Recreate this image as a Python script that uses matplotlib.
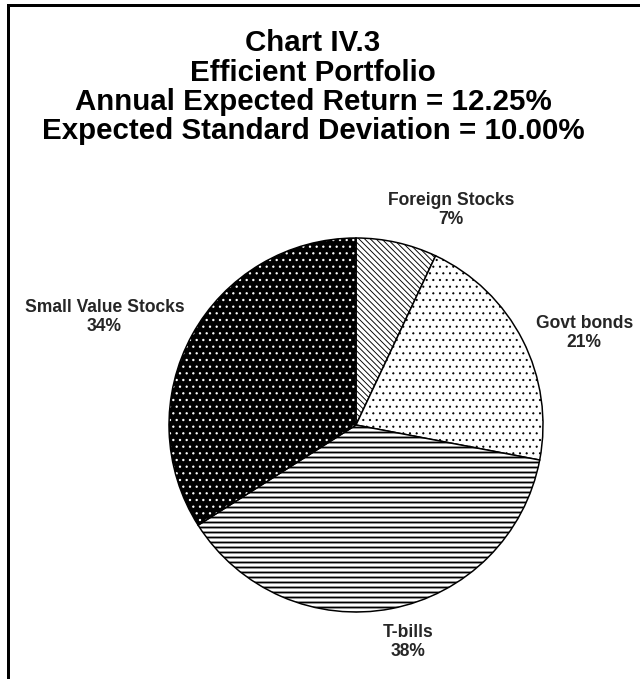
import matplotlib.pyplot as plt
from matplotlib.patches import Wedge
from matplotlib.lines import Line2D

plt.rcParams['font.family'] = ['Liberation Sans', 'DejaVu Sans']
plt.rcParams['hatch.linewidth'] = 0.8

# portfolio weights, clockwise from 12 o'clock
title_lines = ['Chart IV.3',
               'Efficient Portfolio',
               'Annual Expected Return = 12.25%',
               'Expected Standard Deviation = 10.00%']
assets = ['Foreign Stocks', 'Govt bonds', 'T-bills', 'Small Value Stocks']
weights = [7, 21, 38, 34]

# fill styles for the black and white print version
faces = ['white', 'white', 'white', 'black']
hatches = ['\\' * 7, '...', '----', '...']
hatch_lw = [0.55, 0.5, 1.1, 0.6]
label_pos = [(0.51, 1.15), (1.22, 0.49), (0.28, -1.16), (-1.345, 0.58)]

DPI = 120
W, H = 640, 679
cx, cy, r = 356, 425, 187   # pie centre and radius in pixels

fig = plt.figure(figsize=(W / DPI, H / DPI), dpi=DPI)
ax = fig.add_axes([0, 0, 1, 1])

wedges, _ = ax.pie(weights, startangle=90, counterclock=False, colors=faces,
                   wedgeprops=dict(edgecolor='black', linewidth=0.9))

for w, hatch, hlw, face in zip(wedges, hatches, hatch_lw, faces):
    w.set_hatch(hatch)
    if hasattr(w, 'set_hatch_linewidth'):
        w.set_hatch_linewidth(hlw)
    if face == 'black':
        # white dots on the dark slice, outline redrawn on top
        w.set_edgecolor('white')
        w.set_linewidth(0)
        ax.add_patch(Wedge(w.center, w.r, w.theta1, w.theta2, facecolor='none',
                           edgecolor='black', linewidth=0.9))

for name, pct, (x, y) in zip(assets, weights, label_pos):
    ax.text(x, y, f'{name}\n{pct}%', ha='center', va='center', fontsize=10.5,
            fontweight='bold', color='#262626', linespacing=1.15)

ax.set_xlim(-cx / r, (W - cx) / r)
ax.set_ylim(-(H - cy) / r, cy / r)
ax.axis('off')

# title, one line at a time
for line, base in zip(title_lines, [51, 81, 110, 139]):
    fig.text(313 / W, 1 - base / H, line, ha='center', va='baseline',
             fontsize=17.7, fontweight='bold')

# page frame (left and top edges)
fig.add_artist(Line2D([8 / W, 8 / W], [0, 1 - 4.5 / H], transform=fig.transFigure,
                      color='black', linewidth=1.8))
fig.add_artist(Line2D([8 / W, 1], [1 - 4.5 / H, 1 - 4.5 / H], transform=fig.transFigure,
                      color='black', linewidth=1.8))

fig.savefig('out.png', dpi=DPI)
